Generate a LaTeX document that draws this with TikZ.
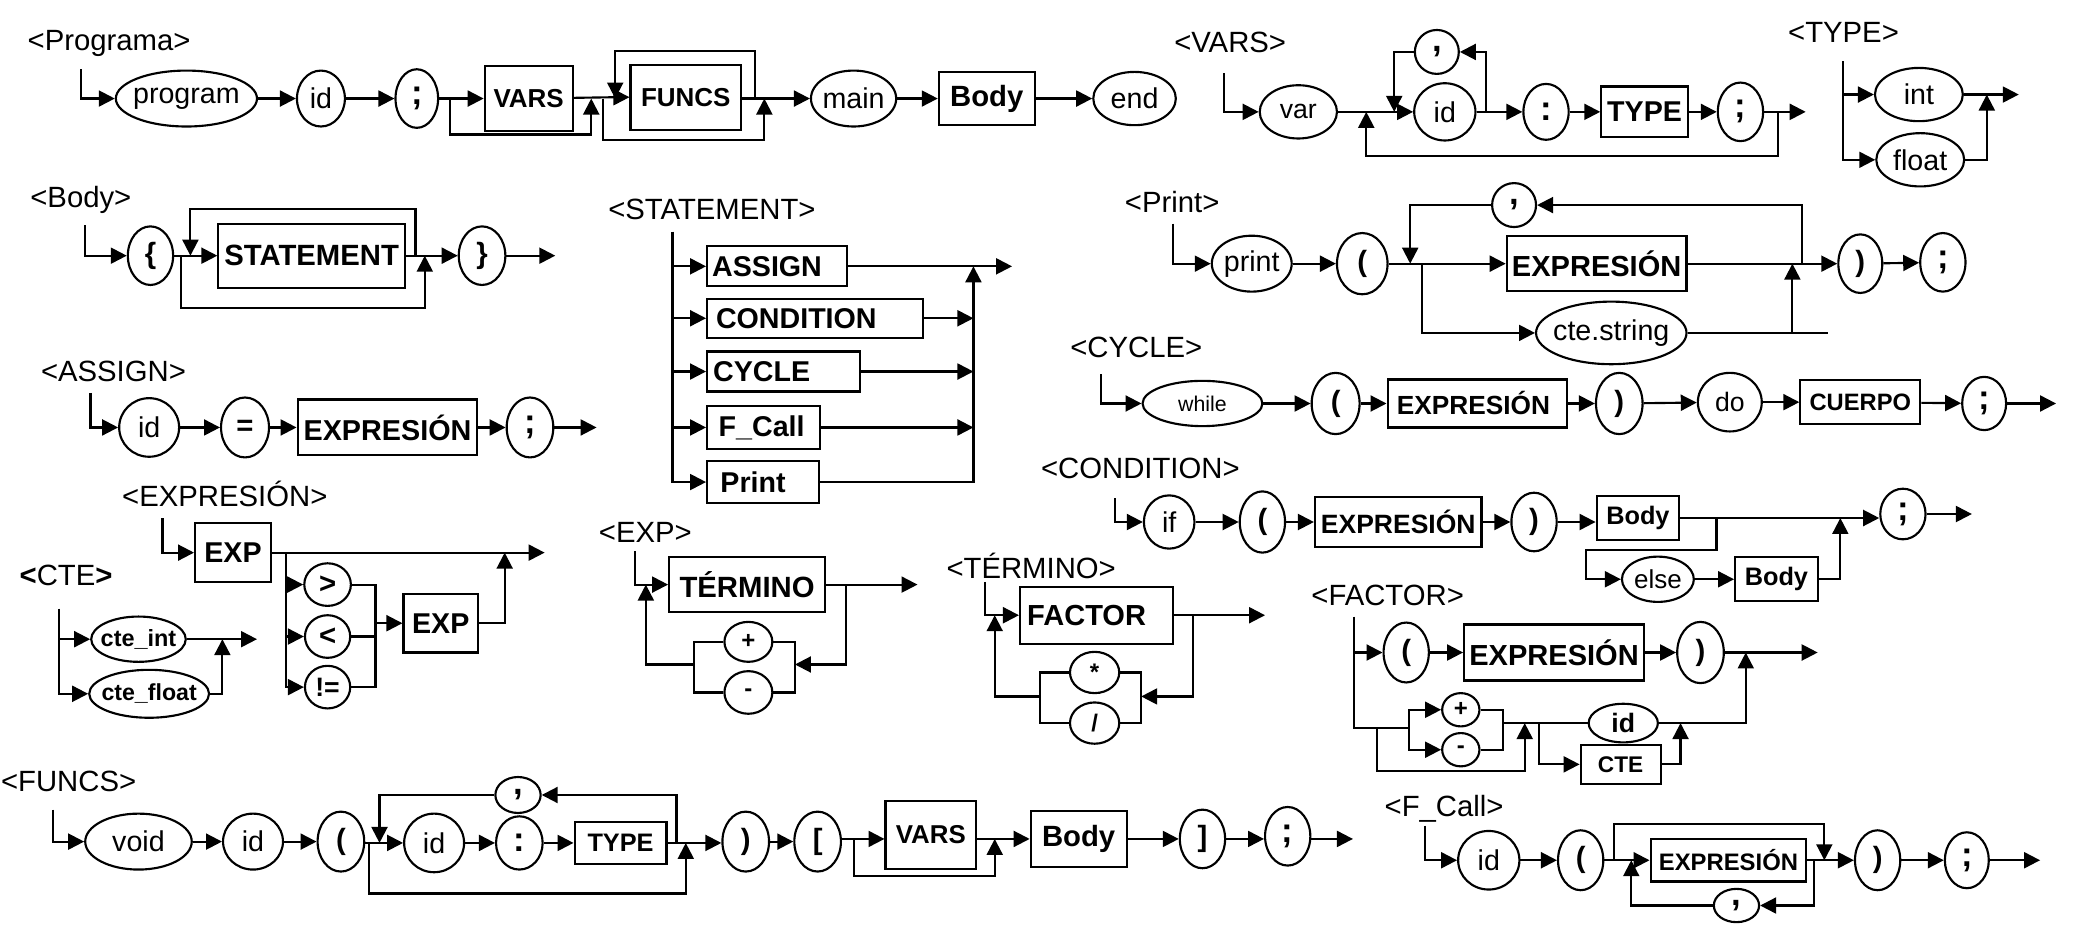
\documentclass[tikz,border=0pt]{standalone}
\usepackage{fontspec}
\setmainfont{Liberation Sans}
\usetikzlibrary{arrows.meta,shapes.geometric}
\begin{document}
\begin{tikzpicture}[x=1pt,y=-1pt,line width=1.6pt,
  every node/.style={inner sep=0pt},
  ctr/.style={execute at begin node={\hbox to 0pt\bgroup\hss\kern#1pt},
              execute at end node={\hss\egroup}},
  ctr/.default=0,
  wh/.style 2 args={minimum width=#1pt,minimum height=#2pt},
  fsz/.style={font=\fontsize{#1}{#1}\selectfont},
  bfsz/.style={font=\bfseries\fontsize{#1}{#1}\selectfont},
  term/.style={draw,ellipse,ctr,fsz=21.5},
  sym/.style={draw,ellipse,ctr,bfsz=22},
  psym/.style={draw,ellipse,ctr,bfsz=26},
  nt/.style={draw,rectangle,ctr,bfsz=21.5},
  lbl/.style={anchor=west,fsz=22},
  arr/.style={-{Triangle[length=12pt,width=12pt]}}]

\fill[white] (0,0) rectangle (1568,712);
\useasboundingbox (0,0) rectangle (1568,712);

% ---------------- <Programa>
\node[lbl] (Lprog) at (20,33) {<Programa>};
\coordinate (ps) at (61,52);
\node[term,wh={106}{42}] (prog) at (140,74) {program};
\node[term,wh={36}{42}] (pid) at (241,74) {id};
\node[psym,wh={32}{44}] (psemi) at (313,74) {;};
\node[nt,wh={66}{49},bfsz=19.5] (pvars) at (397,74) {VARS};
\node[nt,wh={83}{49},bfsz=19.5] (pfuncs) at (515,73) {FUNCS};
\node[term,wh={64}{42}] (pmain) at (641,74) {main};
\node[nt,wh={72}{40},bfsz=22] (pbody) at (741,74) {Body};
\node[term,wh={62}{40}] (pend) at (852,74) {end};
\coordinate (pa) at (338,74); \coordinate (pb) at (444,74);
\coordinate (pc) at (453,74); \coordinate (pd) at (462,74);
\coordinate (pe) at (567,74); \coordinate (pf) at (574,74);
\draw[arr] (ps) |- (prog);
\draw[arr] (prog) -- (pid);
\draw[arr] (pid) -- (psemi);
\draw (psemi) -- (pa);
\draw[arr] (pa) -- (pvars);
\draw[arr] (pa) -- ++(0,27) -| (pb);
\draw[arr] (pvars) -- (pd |- pfuncs.west) -- (pfuncs.west);
\draw[arr] (pe) -- ++(0,-36) -| (pd);
\draw[arr] (pc) -- ++(0,31) -| (pf);
\draw[arr] (pfuncs.east |- pe) -- (pmain);
\draw[arr] (pmain) -- (pbody);
\draw[arr] (pbody) -- (pend);

% ---------------- <VARS>
\node[lbl] (Lvars) at (881,32) {<VARS>};
\coordinate (vs) at (919,55);
\node[term,wh={58}{40},fsz=20] (vvar) at (975,84) {var};
\node[term,wh={46}{43}] (vid) at (1085,84) {id};
\node[psym,wh={33}{33}] (vcom) at (1079,39) {,};
\node[psym,wh={34}{42}] (vcol) at (1161,84) {:};
\node[nt,wh={65}{38}] (vtype) at (1235,84) {TYPE};
\node[psym,wh={34}{44}] (vsemi) at (1307,84) {;};
\coordinate (va) at (1026,84); \coordinate (vb) at (1047,84);
\coordinate (vc) at (1116,84); \coordinate (vd) at (1335,84);
\coordinate (ve) at (1356,84);
\draw[arr] (vs) |- (vvar);
\draw[arr] (vvar) -- (vid);
\draw[arr] (vc) |- (vcom);
\draw[arr] (vcom) -| (vb);
\draw[arr] (vid) -- (vcol);
\draw[arr] (vcol) -- (vtype);
\draw[arr] (vtype) -- (vsemi);
\draw[arr] (vsemi) -- (ve);
\draw[arr] (vd) -- ++(0,33) -| (va);

% ---------------- <TYPE>
\node[lbl] (Ltype) at (1342,24) {<TYPE>};
\coordinate (ts) at (1384,46);
\node[term,wh={66}{40}] (tint) at (1441,71) {int};
\node[term,wh={66}{40}] (tflt) at (1442,120) {float};
\coordinate (tj) at (1492,71); \coordinate (te) at (1516,71);
\draw[arr] (ts) |- (tflt);
\draw[arr] (ts |- tint) -- (tint);
\draw[arr] (tint) -- (te);
\draw[arr] (tflt) -| (tj);

% ---------------- <Body>
\node[lbl] (Lbody) at (22,150) {<Body>};
\coordinate (bs) at (64,169);
\node[sym,wh={34}{44}] (blb) at (113,192) {\{};
\node[nt,wh={140}{48},bfsz=22] (bstmt) at (234,192) {STATEMENT};
\node[sym,wh={35}{44}] (brb) at (362,192) {\}};
\coordinate (ba) at (136,192); \coordinate (bb) at (143,192);
\coordinate (bc) at (312,192); \coordinate (bd) at (319,192);
\coordinate (be) at (417,192);
\draw[arr] (bs) |- (blb);
\draw[arr] (blb) -- (bstmt);
\draw[arr] (bstmt) -- (brb);
\draw[arr] (brb) -- (be);
\draw[arr] (bc) -- ++(0,-35) -| (bb);
\draw[arr] (ba) -- ++(0,39) -| (bd);

% ---------------- <STATEMENT>
\node[lbl] (Lstmt) at (456,157) {<STATEMENT>};
\coordinate (ss) at (505,174);
\node[nt,wh={105}{30},ctr=-15] (sasg) at (583.5,200) {ASSIGN};
\node[nt,wh={162}{29},ctr=-28] (scond) at (612,239) {CONDITION};
\node[nt,wh={115}{30},ctr=-33] (scyc) at (588.5,279) {CYCLE};
\node[nt,wh={85}{32},ctr=-3] (sfc) at (573.5,321) {F\_Call};
\node[nt,wh={84}{32},ctr=-15] (sprint) at (573,362) {Print};
\coordinate (sc) at (731,200); \coordinate (se) at (760,200);
\draw[arr] (ss) |- (sprint);
\draw[arr] (ss |- sasg.west) -- (sasg.west);
\draw[arr] (ss |- scond.west) -- (scond.west);
\draw[arr] (ss |- scyc.west) -- (scyc.west);
\draw[arr] (ss |- sfc.west) -- (sfc.west);
\draw[arr] (sasg) -- (se);
\draw[arr] (scond.east) -- (scond.east -| sc);
\draw[arr] (scyc.east) -- (scyc.east -| sc);
\draw[arr] (sfc.east) -- (sfc.east -| sc);
\draw[arr] (sprint.east) -| (sc);

% ---------------- <Print>
\node[lbl] (Lprint) at (844,152) {<Print>};
\coordinate (qs) at (881,168);
\node[term,wh={60}{42}] (qprint) at (940,198) {print};
\node[sym,wh={38}{46}] (qlp) at (1023,198) {(};
\node[nt,wh={135}{41},bfsz=21.8] (qexp) at (1199,198) {EXPRESIÓN};
\node[term,wh={113}{47}] (qcte) at (1210,250) {cte.string};
\node[psym,wh={33}{33}] (qcom) at (1137,154) {,};
\node[sym,wh={33}{44}] (qrp) at (1397,198) {)};
\node[psym,wh={34}{44}] (qsemi) at (1459,197) {;};
\coordinate (qa) at (1059,198); \coordinate (qb) at (1068,198);
\coordinate (qc) at (1346,198); \coordinate (qd) at (1353,198);
\coordinate (qe) at (1373,250);
\draw[arr] (qs) |- (qprint);
\draw[arr] (qprint) -- (qlp);
\draw[arr] (qlp) -- (qexp);
\draw[arr] (qexp) -- (qrp);
\draw[arr] (qrp) -- (qsemi);
\draw[arr] (qd) |- (qcom);
\draw[arr] (qcom) -| (qa);
\draw[arr] (qb) |- (qcte);
\draw (qcte) -- (qe);
\draw[arr] (qcte -| qc) -- (qc);

% ---------------- <CYCLE>
\node[lbl] (Lcyc) at (803,261) {<CYCLE>};
\coordinate (ys) at (827,281);
\node[term,wh={90}{34},fsz=16] (ywhile) at (903,303) {while};
\node[sym,wh={36}{46}] (ylp) at (1003,303) {(};
\node[nt,wh={135}{36},bfsz=19.7,ctr=-6] (yexp) at (1109.5,303) {EXPRESIÓN};
\node[sym,wh={35}{46}] (yrp) at (1216,303) {)};
\node[term,wh={48}{44},fsz=20] (ydo) at (1299,302) {do};
\node[nt,wh={90}{33},bfsz=17.8] (ycuer) at (1397,302) {CUERPO};
\node[psym,wh={33}{40}] (ysemi) at (1490,303) {;};
\coordinate (ye) at (1544,303);
\draw[arr] (ys) |- (ywhile);
\draw[arr] (ywhile) -- (ylp);
\draw[arr] (ylp) -- (yexp);
\draw[arr] (yexp) -- (yrp);
\draw[arr] (yrp) -- (ydo);
\draw[arr] (ydo) -- (ycuer);
\draw[arr] (ycuer) -- (ysemi);
\draw[arr] (ysemi) -- (ye);

% ---------------- <CONDITION>
\node[lbl] (Lcond) at (781,352) {<CONDITION>};
\coordinate (cs) at (837,374);
\node[term,wh={38}{40}] (cif) at (878,392) {if};
\node[sym,wh={34}{46}] (clp) at (948,392) {(};
\node[nt,wh={125}{37},bfsz=19.9] (cexp) at (1050,392) {EXPRESIÓN};
\node[sym,wh={34}{44}] (crp) at (1152,392) {)};
\node[nt,wh={62}{33},bfsz=19] (cbody) at (1230,389) {Body};
\node[term,wh={54}{34},fsz=19.5] (celse) at (1245,435) {else};
\node[nt,wh={62}{33},bfsz=19] (cbody2) at (1334,435) {Body};
\node[psym,wh={34}{38}] (csemi) at (1429,386) {;};
\coordinate (ca) at (1289,389); \coordinate (cb) at (1191,413);
\coordinate (cc) at (1382,389);
\draw[arr] (cs) |- (cif);
\draw[arr] (cif) -- (clp);
\draw[arr] (clp) -- (cexp);
\draw[arr] (cexp) -- (crp);
\draw[arr] (crp.east) -- (crp.east -| cbody.west);
\draw[arr] (cbody.east) -- (cbody.east -| csemi.west);
\draw[arr] (ca) |- (cb) |- (celse);
\draw[arr] (celse) -- (cbody2);
\draw[arr] (cbody2) -| (cc);
\draw[arr] (csemi.east) -- ++(34,0);

% ---------------- <ASSIGN>
\node[lbl] (Lasg) at (30,279) {<ASSIGN>};
\coordinate (as) at (68,295);
\node[term,wh={45}{44}] (aid) at (112,321) {id};
\node[sym,wh={36}{45}] (aeq) at (184,321) {=};
\node[nt,wh={135}{42},bfsz=21.6] (aexp) at (291,321) {EXPRESIÓN};
\node[psym,wh={35}{45}] (asemi) at (398,321) {;};
\coordinate (ae) at (448,321);
\draw[arr] (as) |- (aid);
\draw[arr] (aid) -- (aeq);
\draw[arr] (aeq) -- (aexp);
\draw[arr] (aexp) -- (asemi);
\draw[arr] (asemi) -- (ae);

% ---------------- <EXPRESIÓN>
\node[lbl] (Lexpr) at (91,371) {<EXPRESIÓN>};
\coordinate (es) at (122,389);
\node[nt,wh={57}{44}] (eexp) at (175,415) {EXP};
\coordinate (ea) at (215,415); \coordinate (eb) at (379,415);
\coordinate (ee) at (409,415);
\node[sym,wh={35}{32}] (egt) at (246,439) {>};
\node[sym,wh={34}{32}] (elt) at (246,478) {<};
\node[sym,wh={34}{32},bfsz=20] (ene) at (246,516) {!=};
\coordinate (ec) at (282,516);
\node[nt,wh={56}{44}] (eexp2) at (331,468) {EXP};
\draw[arr] (es) |- (eexp);
\draw[arr] (eexp) -- (ee);
\draw[arr] (ea) |- (ene);
\draw[arr] (ea |- egt) -- (egt);
\draw[arr] (ea |- elt) -- (elt);
\draw (egt) -| (ec) -- (ene);
\draw (elt) -- (elt -| ec);
\draw[arr] (eexp2 -| ec) -- (eexp2);
\draw[arr] (eexp2) -| (eb);

% ---------------- <CTE>
\node[lbl] (Lcte) at (14,432) {{\bfseries<}CTE{\bfseries>}};
\coordinate (ks) at (44,457);
\node[term,wh={71}{34},bfsz=17.6] (kint) at (104,480) {cte\_int};
\node[term,wh={90}{36},bfsz=17.4] (kflt) at (112,521) {cte\_float};
\coordinate (kj) at (167,480); \coordinate (ke) at (193,480);
\draw[arr] (ks) |- (kflt);
\draw[arr] (ks |- kint) -- (kint);
\draw[arr] (kint) -- (ke);
\draw[arr] (kflt) -| (kj);

% ---------------- <EXP>
\node[lbl] (Lexp) at (449,400) {<EXP>};
\coordinate (xs) at (477,414);
\node[nt,wh={117}{41},bfsz=22] (xterm) at (561,439) {TÉRMINO};
\coordinate (xa) at (485,439); \coordinate (xb) at (635,439);
\coordinate (xe) at (689,439);
\node[sym,wh={36}{30},bfsz=18] (xplus) at (562,482) {+};
\node[sym,wh={36}{32},bfsz=18] (xminus) at (562,520) {-};
\coordinate (xr) at (597,520); \coordinate (xl) at (521,520);
\coordinate (xm) at (597,499);
\draw[arr] (xs) |- (xterm);
\draw[arr] (xterm) -- (xe);
\draw[arr] (xb) |- (xm);
\draw (xplus) -| (xr) -- (xminus);
\draw (xplus) -| (xl) -- (xminus);
\draw[arr] (xl |- xm) -| (xa);

% ---------------- <TÉRMINO>
\node[lbl] (Lterm) at (710,425) {<TÉRMINO>};
\coordinate (ms) at (740,437);
\node[nt,wh={115}{43},bfsz=21.8,ctr=-15] (mfac) at (823.5,462) {FACTOR};
\coordinate (ma) at (747,462); \coordinate (mb) at (896,462);
\coordinate (me) at (950,462);
\node[sym,wh={37}{31},bfsz=18] (mstar) at (822,505) {*};
\node[sym,wh={37}{31},bfsz=18] (mslash) at (822,543) {/};
\coordinate (mr) at (857,543); \coordinate (ml) at (781,543);
\coordinate (mm) at (857,523);
\draw[arr] (ms) |- (mfac);
\draw[arr] (mfac) -- (me);
\draw[arr] (mb) |- (mm);
\draw (mstar) -| (mr) -- (mslash);
\draw (mstar) -| (ml) -- (mslash);
\draw[arr] (ml |- mm) -| (ma);

% ---------------- <FACTOR>
\node[lbl] (Lfac) at (984,447) {<FACTOR>};
\coordinate (fs) at (1017,463);
\node[sym,wh={34}{45}] (flp) at (1056,490) {(};
\node[nt,wh={135}{42},bfsz=21.8] (fexp) at (1167,490) {EXPRESIÓN};
\node[sym,wh={35}{46}] (frp) at (1277,490) {)};
\coordinate (fa) at (1311,490); \coordinate (fe) at (1365,490);
\coordinate (fb) at (1017,547); \coordinate (fl) at (1058,547);
\node[sym,wh={28}{25},bfsz=18] (fplus) at (1097,533) {+};
\node[sym,wh={28}{25},bfsz=18] (fminus) at (1097,563) {-};
\coordinate (frb) at (1129,563); \coordinate (fm) at (1129,543);
\node[term,wh={52}{29},bfsz=20] (fid) at (1219,543) {id};
\node[nt,wh={60}{29},bfsz=17] (fcte) at (1217,574) {CTE};
\coordinate (fc) at (1034,547); \coordinate (fd) at (1145,543);
\coordinate (fg) at (1156,543); \coordinate (fh) at (1262,543);
\draw (fs) -- (fb) -- (fl);
\draw[arr] (fs |- flp) -- (flp);
\draw[arr] (flp) -- (fexp);
\draw[arr] (fexp) -- (frp);
\draw[arr] (frp) -- (fe);
\draw[arr] (fl) |- (fplus);
\draw[arr] (fl) |- (fminus);
\draw (fplus) -| (frb) -- (fminus);
\draw (fm) -- (fid);
\draw[arr] (fc) -- ++(0,32) -| (fd);
\draw[arr] (fg) |- (fcte);
\draw[arr] (fid) -| (fa);
\draw[arr] (fcte) -| (fh);

% ---------------- <FUNCS>
\node[lbl] (Lfuncs) at (0,587) {<FUNCS>};
\coordinate (us) at (40,608);
\node[term,wh={80}{42}] (uvoid) at (104,632) {void};
\node[term,wh={45}{42}] (uid) at (190,632) {id};
\node[sym,wh={35}{45}] (ulp) at (256,632) {(};
\node[term,wh={45}{44}] (uid2) at (326,633) {id};
\node[psym,wh={35}{40}] (ucol) at (390,633) {:};
\node[nt,wh={69}{32},bfsz=19] (utype) at (466,633) {TYPE};
\node[psym,wh={34}{27}] (ucom) at (389,597) {,};
\node[sym,wh={35}{45}] (urp) at (560,632) {)};
\node[sym,wh={35}{45}] (ulb) at (614,632) {[};
\node[nt,wh={68}{51},bfsz=19.4] (uvars) at (699,627) {VARS};
\node[nt,wh={72}{42},bfsz=22] (ubody) at (810,630) {Body};
\node[sym,wh={34}{44}] (urb) at (903,630) {]};
\node[psym,wh={34}{44}] (usemi) at (967,628) {;};
\coordinate (ua) at (277,633); \coordinate (ub) at (285,633);
\coordinate (uc) at (508,633); \coordinate (ud) at (515,633);
\coordinate (uf) at (641,630); \coordinate (ug) at (747,630);
\coordinate (ue) at (1016,630);
\draw[arr] (us) |- (uvoid);
\draw[arr] (uvoid) -- (uid);
\draw[arr] (uid) -- (ulp);
\draw[arr] (ulp.east |- ua) -- (uid2);
\draw[arr] (uid2) -- (ucol);
\draw[arr] (ucol) -- (utype);
\draw[arr] (utype) -- (urp.west |- ud);
\draw[arr] (uc) |- (ucom);
\draw[arr] (ucom) -| (ub);
\draw[arr] (ua) -- ++(0,38) -| (ud);
\draw[arr] (urp) -- (ulb);
\draw (ulb.east |- uf) -- (uf);
\draw[arr] (uf) -- (uf -| uvars.west);
\draw[arr] (uf) -- ++(0,28) -| (ug);
\draw[arr] (uvars.east |- ug) -- (ubody);
\draw[arr] (ubody) -- (urb);
\draw[arr] (urb) -- (usemi.west |- ue);
\draw[arr] (usemi.east |- ue) -- (ue);

% ---------------- <F_Call>
\node[lbl] (Lfcall) at (1039,607) {<F\_Call>};
\coordinate (gs) at (1070,620);
\node[term,wh={46}{44}] (gid) at (1118,646) {id};
\node[sym,wh={34}{45}] (glp) at (1187,646) {(};
\node[nt,wh={117}{32},bfsz=17.9] (gexp) at (1298,646) {EXPRESIÓN};
\node[sym,wh={34}{45}] (grp) at (1410,646) {)};
\node[psym,wh={33}{42}] (gsemi) at (1477,646) {;};
\node[psym,wh={34}{25}] (gcom) at (1304,680) {,};
\coordinate (ga) at (1212,646); \coordinate (gb) at (1225,646);
\coordinate (gc) at (1362,646); \coordinate (gd) at (1370,646);
\coordinate (ge) at (1532,646);
\draw[arr] (gs) |- (gid);
\draw[arr] (gid) -- (glp);
\draw[arr] (glp) -- (gexp);
\draw[arr] (gexp) -- (grp);
\draw[arr] (ga) -- ++(0,-27) -| (gd);
\draw[arr] (gc) |- (gcom);
\draw[arr] (gcom) -| (gb);
\draw[arr] (grp) -- (gsemi);
\draw[arr] (gsemi) -- (ge);

\end{tikzpicture}
\end{document}
